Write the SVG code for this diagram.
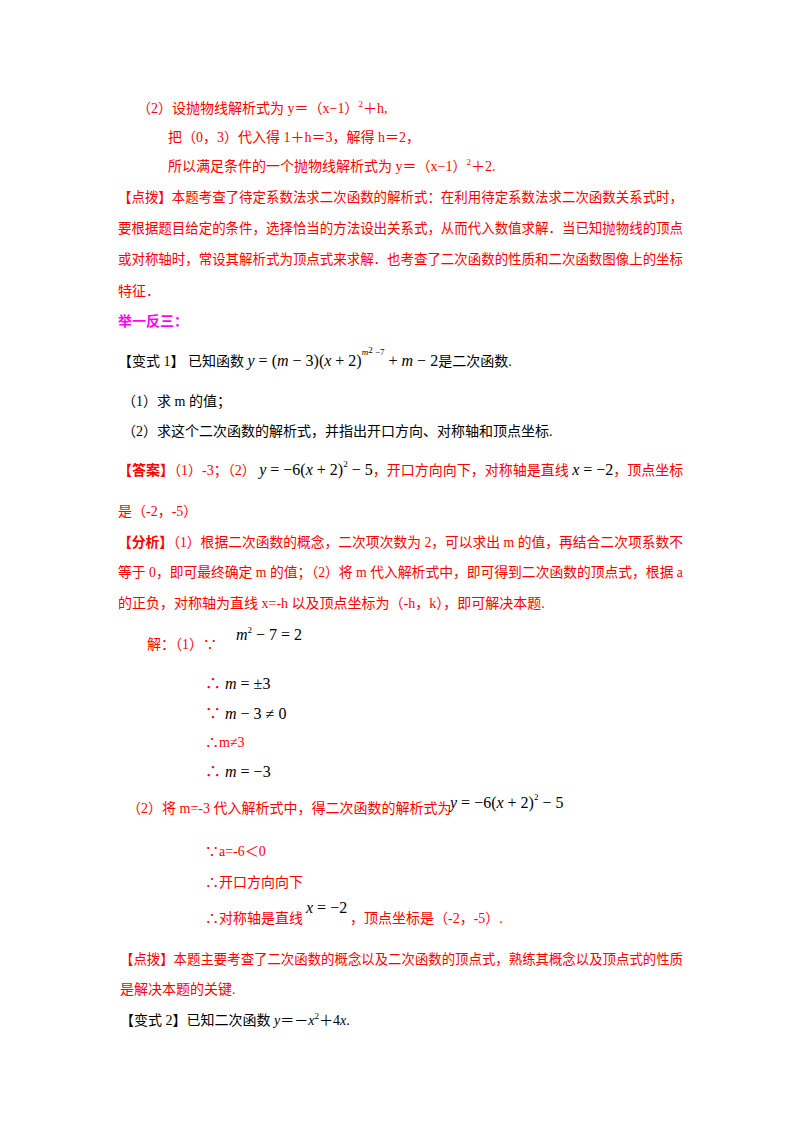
<svg xmlns="http://www.w3.org/2000/svg" width="800" height="1132" viewBox="0 0 800 1132">
<style>
text{font-family:"Liberation Serif","Noto Sans CJK SC",serif;font-size:14px;fill:#000}
.r{fill:#FF0000}
.m{fill:#FF00FF;font-weight:bold}
.i{font-style:italic}
.sup{font-size:9px}
.big{font-size:16px}
</style>
<rect width="800" height="1132" fill="#fff"/>
<g class="r">
<text class="r" x="137" y="113">（2）设抛物线解析式为 y＝（x−1）<tspan class="sup" dy="-6">2</tspan><tspan dy="6">＋h,</tspan></text>
<text class="r" x="168" y="142">把（0，3）代入得 1＋h＝3，解得 h＝2，</text>
<text class="r" x="168" y="171">所以满足条件的一个抛物线解析式为 y＝（x−1）<tspan class="sup" dy="-6">2</tspan><tspan dy="6">＋2.</tspan></text>
<text class="r" x="118" y="202" textLength="565" lengthAdjust="spacingAndGlyphs">【点拨】本题考查了待定系数法求二次函数的解析式：在利用待定系数法求二次函数关系式时，</text>
<text class="r" x="118" y="233" textLength="565" lengthAdjust="spacingAndGlyphs">要根据题目给定的条件，选择恰当的方法设出关系式，从而代入数值求解．当已知抛物线的顶点</text>
<text class="r" x="118" y="264" textLength="565" lengthAdjust="spacingAndGlyphs">或对称轴时，常设其解析式为顶点式来求解．也考查了二次函数的性质和二次函数图像上的坐标</text>
<text class="r" x="118" y="296">特征．</text>
</g>
<text class="m" x="118" y="326">举一反三：</text>
<text x="118" y="366">【变式 1】 已知函数 <tspan class="i big">y</tspan><tspan class="big"> = (</tspan><tspan class="i big">m</tspan><tspan class="big"> − 3)(</tspan><tspan class="i big">x</tspan><tspan class="big"> + 2)</tspan><tspan class="sup i" dy="-11">m</tspan><tspan class="sup" font-size="6" dy="-2">2</tspan><tspan class="sup" dy="2"> −7</tspan><tspan class="big" dy="11">  + </tspan><tspan class="i big">m</tspan><tspan class="big"> − 2</tspan>是二次函数.</text>
<text x="122" y="406">（1）求 m 的值；</text>
<text x="122" y="436">（2）求这个二次函数的解析式，并指出开口方向、对称轴和顶点坐标.</text>
<text class="r" x="118" y="475"><tspan font-weight="bold">【答案】</tspan>（1）-3；（2）  <tspan class="i big" fill="#000">y</tspan><tspan class="big" fill="#000"> = −6(</tspan><tspan class="i big" fill="#000">x</tspan><tspan class="big" fill="#000"> + 2)</tspan><tspan class="sup" fill="#000" dy="-8">2</tspan><tspan class="big" fill="#000" dy="8"> − 5</tspan>，开口方向向下，对称轴是直线 <tspan class="i big" fill="#000">x</tspan><tspan class="big" fill="#000"> = −2</tspan>，顶点坐标</text>
<text class="r" x="118" y="516">是（-2，-5）</text>
<text class="r" x="118" y="547" textLength="565" lengthAdjust="spacingAndGlyphs"><tspan font-weight="bold">【分析】</tspan>（1）根据二次函数的概念，二次项次数为 2，可以求出 m 的值，再结合二次项系数不</text>
<text class="r" x="118" y="577" textLength="565" lengthAdjust="spacingAndGlyphs">等于 0，即可最终确定 m 的值；（2）将 m 代入解析式中，即可得到二次函数的顶点式，根据 a</text>
<text class="r" x="118" y="608">的正负，对称轴为直线 x=-h 以及顶点坐标为（-h，k），即可解决本题.</text>
<text class="r" x="147" y="649">解：（1）∵</text>
<text x="236" y="640" class="big"><tspan class="i">m</tspan><tspan class="sup" dy="-7">2</tspan><tspan dy="7"> − 7 = 2</tspan></text>
<text x="205" y="689" class="big"><tspan class="r">∴</tspan> <tspan class="i">m</tspan> = ±3</text>
<text x="205" y="719" class="big"><tspan class="r">∵</tspan> <tspan class="i">m</tspan> − 3 ≠ 0</text>
<text class="r" x="205" y="747">∴m≠3</text>
<text x="205" y="777" class="big"><tspan class="r">∴</tspan> <tspan class="i">m</tspan> = −3</text>
<text class="r" x="127" y="813">（2）将 m=-3 代入解析式中，得二次函数的解析式为</text>
<text x="450" y="808" class="big"><tspan class="i">y</tspan> = −6(<tspan class="i">x</tspan> + 2)<tspan class="sup" dy="-8">2</tspan><tspan dy="8"> − 5</tspan></text>
<text class="r" x="205" y="856">∵a=-6＜0</text>
<text class="r" x="205" y="887">∴开口方向向下</text>
<text class="r" x="205" y="923">∴对称轴是直线</text>
<text x="306" y="913" class="big"><tspan class="i">x</tspan> = −2</text>
<text class="r" x="350" y="923">，顶点坐标是（-2，-5）.</text>
<text class="r" x="120" y="964" textLength="563" lengthAdjust="spacingAndGlyphs">【点拨】本题主要考查了二次函数的概念以及二次函数的顶点式，熟练其概念以及顶点式的性质</text>
<text class="r" x="120" y="994">是解决本题的关键.</text>
<text x="120" y="1025">【变式 2】已知二次函数 <tspan class="i">y</tspan>＝－<tspan class="i">x</tspan><tspan class="sup" dy="-6">2</tspan><tspan dy="6">＋4</tspan><tspan class="i">x</tspan>.</text>
</svg>
